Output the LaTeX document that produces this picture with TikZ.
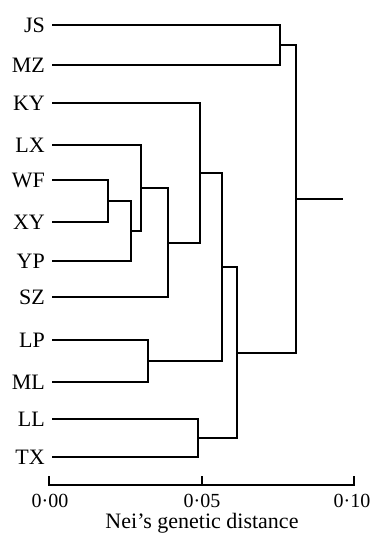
\documentclass[tikz,border=0pt]{standalone}
\usepackage{fontspec}
\setmainfont{Liberation Serif}
\usetikzlibrary{calc}
\tikzset{
  br/.style={line width=2pt, line join=miter},
  leaf/.style={anchor=east, inner xsep=7pt, inner ysep=0pt, font=\fontsize{22}{26}\selectfont},
  ticklab/.style={font=\fontsize{20}{24}\selectfont, inner sep=0pt},
}
\newcommand{\clade}[4]{%
  \path let \p1=(#2), \p2=(#3) in coordinate (#1) at (#4pt,{round(0.5*\y1+0.5*\y2)});
  \draw[br] (#2) -| (#1) |- (#3);
}
\begin{document}
\begin{tikzpicture}[x=1pt,y=-1pt]
\useasboundingbox (0,0) rectangle (376,534);
% leaves
\node[leaf] (JS) at (52,25) {JS};
\node[leaf] (MZ) at (52,65) {MZ};
\node[leaf] (KY) at (52,103) {KY};
\node[leaf] (LX) at (52,145) {LX};
\node[leaf] (WF) at (52,180) {WF};
\node[leaf] (XY) at (52,222) {XY};
\node[leaf] (YP) at (52,261) {YP};
\node[leaf] (SZ) at (52,297) {SZ};
\node[leaf] (LP) at (52,340) {LP};
\node[leaf] (ML) at (52,382) {ML};
\node[leaf] (LL) at (52,419) {LL};
\node[leaf] (TX) at (52,457) {TX};
% clades
\clade{n1}{JS.east}{MZ.east}{280}
\clade{n2}{WF.east}{XY.east}{108}
\clade{n3}{n2}{YP.east}{131}
\clade{n4}{LX.east}{n3}{141}
\clade{n5}{n4}{SZ.east}{168}
\clade{n6}{KY.east}{n5}{200}
\clade{n7}{LP.east}{ML.east}{148}
\clade{n8}{n6}{n7}{222}
\clade{n9}{LL.east}{TX.east}{198}
\clade{n10}{n8}{n9}{237}
\clade{n11}{n1}{n10}{296}
\path let \p1=(n11) in coordinate (rootend) at (343pt,\y1);
\draw[br] (n11) -- (rootend);
% axis
\coordinate (a0) at (49,485);
\coordinate (a5) at (202,485);
\coordinate (a10) at (354,485);
\coordinate (t0) at (49,476);
\coordinate (t5) at (202,476);
\coordinate (t10) at (354,476);
\draw[line width=1.6pt] (t0) -- (a0) -- (a10) -- (t10);
\draw[line width=1.6pt] (a5) -- (t5);
\node[ticklab] (l0) at (50,500.5) {0·00};
\node[ticklab] (l5) at (202,500.5) {0·05};
\node[ticklab] (l10) at (352,500.5) {0·10};
\node[font=\fontsize{22}{26}\selectfont, anchor=base, inner sep=0pt] (title) at (202,528) {Nei’s genetic distance};
\end{tikzpicture}
\end{document}
